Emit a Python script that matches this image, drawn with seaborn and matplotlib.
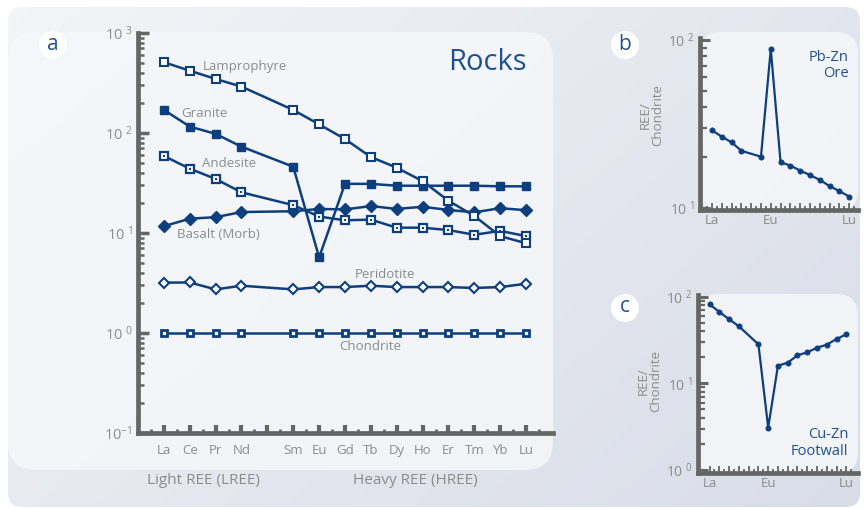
import numpy as np
import pandas as pd
import matplotlib
matplotlib.use("Agg")
import matplotlib.pyplot as plt
import matplotlib.colors as mcolors
import seaborn as sns
from matplotlib.patches import FancyBboxPatch, Circle
from matplotlib.ticker import FixedLocator, FixedFormatter, LogLocator, NullFormatter

# ---- data ------------------------------------------------------------------
elements = ["La", "Ce", "Pr", "Nd", "Pm", "Sm", "Eu", "Gd", "Tb", "Dy", "Ho",
            "Er", "Tm", "Yb", "Lu"]
measured = ["La", "Ce", "Pr", "Nd", "Sm", "Eu", "Gd", "Tb", "Dy", "Ho",
            "Er", "Tm", "Yb", "Lu"]

lamprophyre = [510, 420, 347, 291, 170, 122, 87, 57.5, 45, 33, 21, 14.8, 9.3, 7.9]
granite = [170, 116, 98, 73, 46, 5.7, 31, 31, 29.7, 29.7, 29.7, 29.7, 29.3, 29.3]
andesite = [59, 44, 34.7, 25.5, 19, 14.6, 13.4, 13.6, 11.3, 11.3, 10.7, 9.6, 10.5, 9.3]
basalt = [11.7, 13.9, 14.4, 16.2, 16.5, 17.4, 17.2, 18.6, 17.4, 18.3, 17.0, 16.1, 17.7, 16.9]
peridotite = [3.19, 3.2, 2.73, 2.97, 2.73, 2.88, 2.88, 2.97, 2.88, 2.88, 2.88, 2.82, 2.88, 3.11]
chondrite = [1.0] * 14

pbzn_ore = [29, 26.6, 24.6, 21.9, 20.2, 88.4, 18.7, 17.9, 16.7, 15.7, 14.7, 13.5, 12.6, 11.7]
cuzn_footwall = [81.7, 66.6, 54.9, 45.5, 28.2, 3.08, 16.0, 17.3, 21.1, 22.8, 25.8, 27.9, 32.5, 36.8]

small_labels = ["La", "Eu", "Lu"]

# ---- style -----------------------------------------------------------------
sns.set_style("ticks")
plt.rcParams["font.family"] = ["Open Sans", "DejaVu Sans"]
plt.rcParams["mathtext.default"] = "regular"

BLUE = "#0d3f7e"
TEXT_BLUE = "#1f5090"
GREY = "#8c8c8c"
SPINE = "#666666"

W, H = 867, 509
fig = plt.figure(figsize=(W / 100, H / 100), dpi=100)
fig.patch.set_facecolor("white")


def rect(l, t, r, b):
    return [l / W, 1 - b / H, (r - l) / W, (b - t) / H]


# ---- background panels -------------------------------------------------------
bg = fig.add_axes([0, 0, 1, 1], zorder=-10)
bg.set_xlim(0, W)
bg.set_ylim(H, 0)
bg.axis("off")
yy, xx = np.mgrid[0:H, 0:W]
t = np.clip(0.6 * xx / W + 0.4 * yy / H, 0, 1) ** 0.9
c0 = np.array(mcolors.to_rgb("#f4f5f8"))
c1 = np.array(mcolors.to_rgb("#d9dde8"))
img = c0 + (c1 - c0) * t[..., None]
im = bg.imshow(img, extent=(0, W, H, 0), aspect="auto", interpolation="bilinear")
outer = FancyBboxPatch((8, 7), 852, 500, boxstyle="round,pad=0,rounding_size=14",
                       facecolor="none", edgecolor="none")
bg.add_patch(outer)
im.set_clip_path(outer)

for (l, tp, r, b, rs) in [(8, 32, 553, 470, 28), (700, 32, 858, 212, 22),
                          (697, 294, 858, 474, 22)]:
    bg.add_patch(FancyBboxPatch((l, tp), r - l, b - tp,
                                boxstyle=f"round,pad=0,rounding_size={rs}",
                                facecolor="#f6f7fa", edgecolor="none", alpha=0.85))

for (cx, cy, letter) in [(53, 45, "a"), (625, 45, "b"), (625, 308, "c")]:
    bg.add_patch(Circle((cx, cy), 14, facecolor="white", edgecolor="none"))
    bg.text(cx, cy - 1, letter, ha="center", va="center", fontsize=15, color=TEXT_BLUE)

pos = [elements.index(e) for e in measured]


def style_axes(ax):
    ax.set_facecolor("none")
    sns.despine(ax=ax)
    for s in ("left", "bottom"):
        ax.spines[s].set_color(SPINE)
        ax.spines[s].set_linewidth(3.4)
    ax.tick_params(which="major", direction="in", color=SPINE, length=7, width=2.5,
                   labelcolor=GREY)
    ax.tick_params(which="minor", direction="in", color=SPINE, length=4, width=1.8)
    ax.set_yscale("log")
    ax.set_xlabel("")
    ax.set_ylabel("")


def decade_labels(exps):
    out = []
    for e in exps:
        out.append(r"$10^{" + (str(e) if e < 0 else r"\ " + str(e)) + "}$")
    return out


# ---- panel a : rocks ---------------------------------------------------------
axa = fig.add_axes(rect(138, 33, 553, 433))

line_kw = dict(color=BLUE, linewidth=1.8)
sns.lineplot(x=pos, y=chondrite, ax=axa, marker="s", markersize=4.6,
             markerfacecolor="white", markeredgecolor=BLUE, markeredgewidth=2.0, **line_kw)
sns.lineplot(x=pos, y=peridotite, ax=axa, marker="D", markersize=5.3,
             markerfacecolor="white", markeredgecolor=BLUE, markeredgewidth=1.5, **line_kw)
sns.lineplot(x=pos, y=basalt, ax=axa, marker="D", markersize=5.8,
             markerfacecolor=BLUE, markeredgecolor=BLUE, markeredgewidth=1.0, **line_kw)
sns.lineplot(x=pos, y=andesite, ax=axa, marker="s", markersize=5.6,
             markerfacecolor="white", markeredgecolor=BLUE, markeredgewidth=1.6, **line_kw)
sns.scatterplot(x=pos, y=andesite, ax=axa, marker="s", s=3.5, color=BLUE, linewidth=0,
                zorder=5)
sns.lineplot(x=pos, y=granite, ax=axa, marker="s", markersize=5.6,
             markerfacecolor=BLUE, markeredgecolor=BLUE, markeredgewidth=1.0, **line_kw)
sns.lineplot(x=pos, y=lamprophyre, ax=axa, marker="s", markersize=5.6,
             markerfacecolor="white", markeredgecolor=BLUE, markeredgewidth=1.5, **line_kw)

style_axes(axa)
axa.set_xlim(-1, 15.04)
axa.set_ylim(0.1, 1000)
axa.xaxis.set_major_locator(FixedLocator(list(range(15))))
axa.xaxis.set_major_formatter(FixedFormatter([e if e != "Pm" else "" for e in elements]))
axa.xaxis.set_minor_locator(FixedLocator(list(np.arange(-0.5, 15, 1.0))))
axa.tick_params(axis="x", which="major", length=6, width=3, pad=8, labelsize=9.5)
axa.tick_params(axis="x", which="minor", length=3, width=2)
axa.yaxis.set_major_locator(FixedLocator([0.1, 1, 10, 100, 1000]))
axa.yaxis.set_major_formatter(FixedFormatter(decade_labels([-1, 0, 1, 2, 3])))
axa.yaxis.set_minor_locator(LogLocator(base=10, subs=np.arange(2, 10)))
axa.yaxis.set_minor_formatter(NullFormatter())
axa.tick_params(axis="y", which="major", labelsize=10.5, pad=4, length=8)

for txt, x, y in [("Lamprophyre", 1.51, 460), ("Granite", 0.69, 158),
                  ("Andesite", 1.47, 50), ("Basalt (Morb)", 0.5, 9.55),
                  ("Peridotite", 7.37, 3.89), ("Chondrite", 6.76, 0.74)]:
    axa.text(x, y, txt, ha="left", va="center", fontsize=9.5, color=GREY)

axa.text(0.937, 0.925, "Rocks", transform=axa.transAxes, ha="right", va="center",
         fontsize=21, color=TEXT_BLUE)

fig.text(203 / W, 1 - 480 / H, "Light REE (LREE)", ha="center", va="center",
         fontsize=11, color=GREY)
fig.text(415 / W, 1 - 480 / H, "Heavy REE (HREE)", ha="center", va="center",
         fontsize=11, color=GREY)


# ---- panels b and c ----------------------------------------------------------
def small_panel(ax, values, ylim, decades, name, name_y, xlim):
    sns.lineplot(x=pos, y=values, ax=ax, color=BLUE, linewidth=1.6, marker="o",
                 markersize=3.8, markerfacecolor=BLUE, markeredgecolor=BLUE,
                 markeredgewidth=0.5)
    style_axes(ax)
    ax.set_xlim(*xlim)
    ax.set_ylim(*ylim)
    ax.xaxis.set_major_locator(FixedLocator(list(range(15))))
    ax.xaxis.set_major_formatter(FixedFormatter(
        [e if e in small_labels else "" for e in elements]))
    ax.xaxis.set_minor_locator(FixedLocator(list(np.arange(-0.5, 15, 1.0))))
    ax.tick_params(axis="x", which="major", length=5, width=1.3, pad=3, labelsize=9.5)
    ax.tick_params(axis="x", which="minor", length=3, width=1.3)
    ax.yaxis.set_major_locator(FixedLocator([10.0 ** d for d in decades]))
    ax.yaxis.set_major_formatter(FixedFormatter(decade_labels(decades)))
    ax.yaxis.set_minor_locator(LogLocator(base=10, subs=np.arange(2, 10)))
    ax.yaxis.set_minor_formatter(NullFormatter())
    ax.tick_params(axis="y", which="major", labelsize=10, pad=4, length=7, width=2.2)
    ax.tick_params(axis="y", which="minor", length=5, width=1.6)
    ax.text(0.94, name_y, name, transform=ax.transAxes, ha="right", va="center",
            fontsize=10.5, color=TEXT_BLUE, linespacing=1.15)


axb = fig.add_axes(rect(700, 38, 858, 210))
small_panel(axb, pbzn_ore, (10 ** (1 - 2 / 168), 10 ** (2 + 2 / 168)), [1, 2],
            "Pb-Zn\nOre", 0.84, (-1.22, 14.9))
axc = fig.add_axes(rect(698, 295, 858, 473))
small_panel(axc, cuzn_footwall, (10 ** (-3 / 86.65), 10 ** (2 + 1.7 / 86.65)), [0, 1, 2],
            "Cu-Zn\nFootwall", 0.17, (-1.19, 15.2))

for (x, y) in [(652, 115), (650, 381)]:
    fig.text(x / W, 1 - y / H, "REE/\nChondrite", rotation=90, ha="center", va="center",
             fontsize=9.5, color=GREY, linespacing=0.95)

fig.savefig("out.png", dpi=100)
